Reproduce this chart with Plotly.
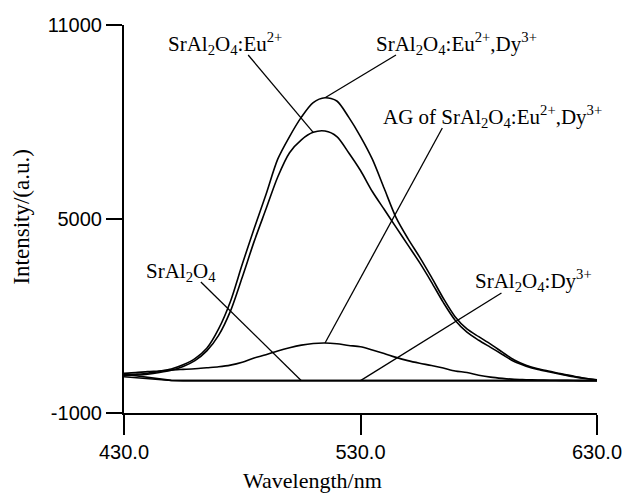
import plotly.graph_objects as go

# Wavelength grid (nm)
wavelength = list(range(430, 631, 5))

# SrAl2O4:Eu2+,Dy3+ (outer curve)
eu_dy = [180, 200, 230, 290, 360, 490, 680, 1000, 1600, 2450, 3600, 4700, 5750, 6850,
         7550, 8150, 8600, 8750, 8650, 8150, 7550, 6850, 5950, 5050, 4400, 3820, 3200,
         2550, 1980, 1600, 1360, 1130, 880, 640, 480, 370, 290, 210, 140, 75, 25]
# SrAl2O4:Eu2+ (inner curve)
eu = [160, 175, 200, 250, 320, 440, 620, 920, 1400, 2150, 3200, 4300, 5300, 6300,
      7050, 7450, 7680, 7720, 7550, 7050, 6500, 5850, 5300, 4750, 4200, 3650, 3050,
      2420, 1870, 1500, 1250, 1030, 810, 590, 450, 345, 270, 195, 125, 65, 20]
# AG of SrAl2O4:Eu2+,Dy3+
ag = [230, 250, 280, 300, 330, 350, 370, 400, 430, 480, 570, 700, 800, 920,
      1020, 1100, 1150, 1165, 1140, 1090, 1050, 950, 840, 720, 620, 540, 470,
      390, 300, 250, 170, 110, 70, 40, 30, 20, 15, 10, 5, 0, 0]
# SrAl2O4
sral = [200, 150, 90, 40, 10] + [0] * 36
# SrAl2O4:Dy3+
sral_dy = [120, 90, 50, 20, 5] + [0] * 36

x_ticks = [430, 530, 630]
x_ticktext = ["430.0", "530.0", "630.0"]
y_ticks = [-1000, 5000, 11000]
y_ticktext = ["-1000", "5000", "11000"]

SERIF = "Liberation Serif, Times New Roman, DejaVu Serif, serif"
NARROW = "Liberation Sans Narrow, Arial Narrow, Liberation Sans, sans-serif"

fig = go.Figure()
for name, ys, shape in [("SrAl2O4:Eu2+,Dy3+", eu_dy, "spline"), ("SrAl2O4:Eu2+", eu, "spline"),
                        ("AG", ag, "spline"), ("SrAl2O4", sral, "linear"),
                        ("SrAl2O4:Dy3+", sral_dy, "linear")]:
    fig.add_trace(go.Scatter(x=wavelength, y=ys, mode="lines", name=name,
                             line=dict(color="black", width=1.6, shape=shape, smoothing=0.8),
                             hoverinfo="skip", showlegend=False))

def at(series, wl):
    return series[wavelength.index(wl)]

# labels: (text, text x, text y, leader start x, leader start y, end x, end y)
labels = [
    ("SrAl<sub>2</sub>O<sub>4</sub>:Eu<sup>2+</sup>", 472.9, 10413, 482.5, 10072, 510, at(eu, 510)),
    ("SrAl<sub>2</sub>O<sub>4</sub>:Eu<sup>2+</sup>,Dy<sup>3+</sup>", 570.8, 10413, 545, 10072, 515, at(eu_dy, 515)),
    ("AG of SrAl<sub>2</sub>O<sub>4</sub>:Eu<sup>2+</sup>,Dy<sup>3+</sup>", 585.8, 8155, 564.6, 7814, 515, at(ag, 515)),
    ("SrAl<sub>2</sub>O<sub>4</sub>", 454.2, 3361, 462.5, 3052, 505, at(sral, 505)),
    ("SrAl<sub>2</sub>O<sub>4</sub>:Dy<sup>3+</sup>", 603.3, 3113, 589.6, 2711, 530, at(sral_dy, 530)),
]
for text, tx, ty, sx, sy, ex, ey in labels:
    fig.add_annotation(x=tx, y=ty, xref="x", yref="y", text=text, showarrow=False,
                       font=dict(family=SERIF, size=21, color="black"),
                       xanchor="center", yanchor="middle")
    fig.add_shape(type="line", xref="x", yref="y", x0=sx, y0=sy, x1=ex, y1=ey,
                  line=dict(color="black", width=1.3))

# axis titles
fig.add_annotation(x=-0.2167, y=0.505, xref="paper", yref="paper", text="Intensity/(a.u.)",
                   textangle=-90, showarrow=False, font=dict(family=SERIF, size=23, color="black"),
                   xanchor="center", yanchor="middle")
fig.add_annotation(x=0.398, y=-0.1727, xref="paper", yref="paper", text="Wavelength/nm",
                   showarrow=False, font=dict(family=SERIF, size=22, color="black"),
                   xanchor="center", yanchor="middle")

fig.update_layout(
    width=634, height=498,
    margin=dict(l=124, r=30, t=25, b=85),
    paper_bgcolor="white", plot_bgcolor="white",
    xaxis=dict(range=[430, 630], tickvals=x_ticks, ticktext=x_ticktext,
               showgrid=False, zeroline=False, showline=True, linecolor="black", linewidth=2,
               ticks="outside", ticklen=20, tickwidth=2, tickcolor="black",
               tickfont=dict(family=NARROW, size=20, color="black")),
    yaxis=dict(range=[-1000, 11000], tickvals=y_ticks, ticktext=y_ticktext,
               showgrid=False, zeroline=False, showline=True, linecolor="black", linewidth=2,
               ticks="outside", ticklen=16, tickwidth=2, tickcolor="black",
               tickfont=dict(family=NARROW, size=20, color="black")),
    hovermode=False,
)

fig.write_html("out.html", config={"displayModeBar": False})
